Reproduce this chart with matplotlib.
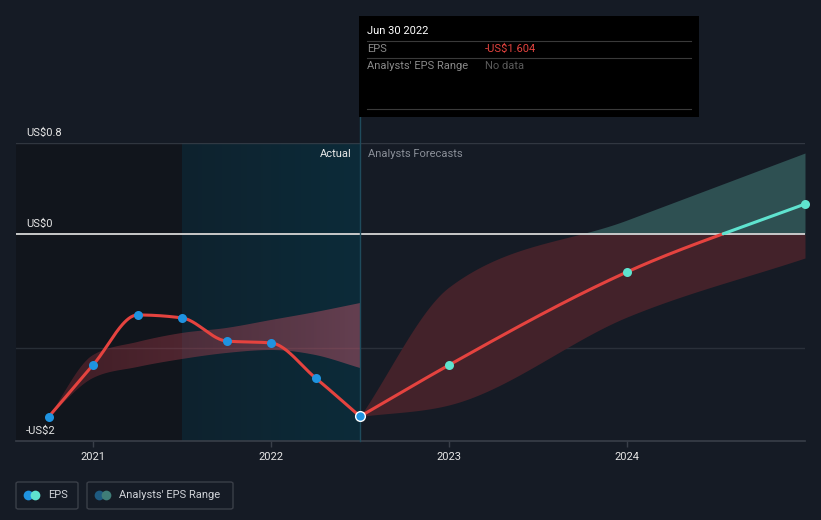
import numpy as np
import matplotlib
matplotlib.use("Agg")
import matplotlib.pyplot as plt
from matplotlib.patches import Rectangle, FancyBboxPatch
from matplotlib.lines import Line2D
import matplotlib.transforms as mtransforms

plt.rcParams['font.family'] = ['Roboto', 'DejaVu Sans']

#! data (decimal years, US$ per share)
past_x      = [2020.75, 2021.0, 2021.25, 2021.5, 2021.75, 2022.0, 2022.25, 2022.5]
past_eps    = [-1.609, -1.152, -0.712, -0.738, -0.941, -0.958, -1.266, -1.604]
past_upper  = [-1.609, -1.064, -0.949, -0.870, -0.826, -0.756, -0.686, -0.607]
past_lower  = [-1.609, -1.266, -1.169, -1.099, -1.046, -1.020, -1.064, -1.178]

fc_x        = [2022.5, 2023.0, 2024.0, 2025.0]
fc_eps      = [-1.604, -1.152, -0.334, 0.264]
fc_upper    = [-1.604, -0.466, 0.123, 0.712]
fc_lower    = [-1.604, -1.503, -0.730, -0.211]

year_ticks  = [2021, 2022, 2023, 2024]
ytick_vals  = [0.8, 0.0, -1.82]
ytick_text  = ["US$0.8", "US$0", "-US$2"]
grid_vals   = [0.8, -1.0]

# colours
BG       = "#151b25"
DARK     = "#11151c"
RED      = "#e5433f"
TEAL     = "#5fe3cf"
BLUE     = "#1f93e0"
GRID     = "#393f49"


def monotone(xs, ys, n=300):
    # monotone cubic (Fritsch-Carlson) for smooth d3-like curves
    xs = np.asarray(xs, float)
    ys = np.asarray(ys, float)
    h = np.diff(xs)
    d = np.diff(ys) / h
    m = np.zeros_like(ys)
    m[0], m[-1] = d[0], d[-1]
    for k in range(1, len(xs) - 1):
        if d[k - 1] * d[k] <= 0:
            m[k] = 0.0
        else:
            p = (d[k - 1] * h[k] + d[k] * h[k - 1]) / (h[k - 1] + h[k])
            m[k] = np.sign(d[k]) * min(abs(d[k - 1]), abs(d[k]), 0.5 * abs(p)) * 2
            m[k] = np.sign(d[k]) * min(abs(m[k]), abs(p))
    xx = np.linspace(xs[0], xs[-1], n)
    idx = np.clip(np.searchsorted(xs, xx, side="right") - 1, 0, len(xs) - 2)
    t = (xx - xs[idx]) / h[idx]
    h00 = 2 * t**3 - 3 * t**2 + 1
    h10 = t**3 - 2 * t**2 + t
    h01 = -2 * t**3 + 3 * t**2
    h11 = t**3 - t**2
    yy = h00 * ys[idx] + h10 * h[idx] * m[idx] + h01 * ys[idx + 1] + h11 * h[idx] * m[idx + 1]
    return xx, yy


fig = plt.figure(figsize=(8.21, 5.2), dpi=100)
fig.patch.set_facecolor(BG)

W, H = 821, 520
ax = fig.add_axes([16 / W, (H - 441) / H, (805 - 16) / W, (441 - 143) / H])
ax.set_facecolor(BG)
x0, x1 = 2020.567, 2025.0
y0, y1 = -1.82, 0.8
ax.set_xlim(x0, x1)
ax.set_ylim(y0, y1)

# background regions
ax.axvspan(x0, 2021.5, color=DARK, zorder=0, lw=0)
grad = np.linspace(0, 1, 256)[None, :]
c_left = np.array([14, 34, 46]) / 255
c_right = np.array([12, 43, 57]) / 255
teal_img = c_left[None, None, :] * (1 - grad[..., None]) + c_right[None, None, :] * grad[..., None]
ax.imshow(teal_img, extent=[2021.5, 2022.5, y0, y1], aspect="auto", zorder=0.5)
ax.set_xlim(x0, x1)
ax.set_ylim(y0, y1)

# grid
for g in grid_vals:
    ax.axhline(g, color=GRID, lw=1, zorder=1, alpha=0.8 if g == 0.8 else 0.6)
ax.axhline(0, color="#c9c9c9", lw=1.4, zorder=3)
ax.axhline(y0, color=GRID, lw=1.2, zorder=3, clip_on=False)

# past range band with gradient
px, pu = monotone(past_x, past_upper)
_, pl = monotone(past_x, past_lower)
band = ax.fill_between(px, pl, pu, color="none", lw=0)
g2 = np.linspace(0, 1, 256)
rgba = np.zeros((1, 256, 4))
rgba[0, :, 0] = (150 + 40 * g2) / 255
rgba[0, :, 1] = (45 + 40 * g2) / 255
rgba[0, :, 2] = (55 + 50 * g2) / 255
rgba[0, :, 3] = 0.35 + 0.15 * g2
im = ax.imshow(rgba, extent=[past_x[0], past_x[-1], y0, y1], aspect="auto", zorder=2)
im.set_clip_path(band.get_paths()[0], transform=ax.transData)
ax.set_xlim(x0, x1)
ax.set_ylim(y0, y1)

# forecast range band
fx, fu = monotone(fc_x, fc_upper)
_, fl = monotone(fc_x, fc_lower)
ax.fill_between(fx, np.minimum(fl, 0), np.minimum(fu, 0), color="#43222a", lw=0, zorder=2)
ax.fill_between(fx, np.maximum(fl, 0), np.maximum(fu, 0), where=fu > 0, color="#2e5052",
                lw=0, zorder=2, interpolate=True)

# EPS lines
ex, ey = monotone(past_x, past_eps)
ax.plot(ex, ey, color=RED, lw=2.2, zorder=4, solid_capstyle="round")
gx, gy = monotone(fc_x, fc_eps)
ax.plot(gx, np.where(gy <= 0.003, gy, np.nan), color=RED, lw=2.2, zorder=4, solid_capstyle="round")
ax.plot(gx, np.where(gy >= -0.003, gy, np.nan), color=TEAL, lw=2.2, zorder=4, solid_capstyle="round")

ax.plot(past_x[:-1], past_eps[:-1], "o", color=BLUE, ms=6.5, mec="none", zorder=5)
ax.plot(past_x[-1], past_eps[-1], "o", color=BLUE, ms=7, mec="white", mew=1, zorder=6)
ax.plot(fc_x[1:], fc_eps[1:], "o", color=TEAL, ms=6.5, mec="none", zorder=5, clip_on=False)

# divider line at last actual
ax.axvline(2022.5, ymin=0, ymax=(441 - 117) / (441 - 143), color="#1f4b5c", lw=1,
           zorder=3, clip_on=False)

ax.text(2022.5 - 0.045, 0.8 - 0.1, "Actual", color="#e8e8e8", fontsize=8, ha="right",
        va="center", zorder=6)
ax.text(2022.5 + 0.045, 0.8 - 0.1, "Analysts Forecasts", color="#8a8f98", fontsize=8,
        ha="left", va="center", zorder=6)

# axes styling
for s in ax.spines.values():
    s.set_visible(False)
ax.set_yticks([])
ax.set_xticks(year_ticks)
ax.set_xticklabels([str(y) for y in year_ticks])
ax.tick_params(axis="x", colors=GRID, length=4, width=1, pad=4, labelsize=8,
               labelcolor="#e6e6e6")

trans = mtransforms.blended_transform_factory(ax.transAxes, ax.transData)
for v, t in zip(ytick_vals, ytick_text):
    ax.annotate(t, xy=(10 / 789, v), xycoords=trans, xytext=(0, 3.5),
                textcoords="offset points", color="#e6e6e6", fontsize=8,
                ha="left", va="bottom", zorder=7, annotation_clip=False)

# tooltip
fig.patches.append(Rectangle((359 / W, 1 - 117 / H), 340 / W, 101 / H, transform=fig.transFigure,
                             facecolor="black", edgecolor="none", zorder=10))
for yy in [41, 58, 109]:
    fig.add_artist(Line2D([367 / W, 691 / W], [1 - yy / H, 1 - yy / H], color="#3a3a3a",
                          lw=0.8, zorder=11))
fig.text(367 / W, 1 - 31 / H, "Jun 30 2022", color="white", fontsize=8, va="center", zorder=12)
fig.text(367 / W, 1 - 49 / H, "EPS", color="#8a8a8a", fontsize=8, va="center", zorder=12)
fig.text(485 / W, 1 - 49 / H, "-US$1.604", color="#e5433f", fontsize=8, va="center", zorder=12)
fig.text(367 / W, 1 - 66 / H, "Analysts' EPS Range", color="#8a8a8a", fontsize=8,
         va="center", zorder=12)
fig.text(485 / W, 1 - 66 / H, "No data", color="#5a5a5a", fontsize=8, va="center", zorder=12)

# legend
for (bx, bw, label, c1, c2) in [(16, 62, "EPS", BLUE, TEAL),
                                (87, 146, "Analysts' EPS Range", "#1e5a80", "#3f7d78")]:
    fig.patches.append(FancyBboxPatch((bx / W, 1 - 509 / H), bw / W, 27 / H,
                                      boxstyle="round,pad=0,rounding_size=0.003",
                                      transform=fig.transFigure, facecolor="none",
                                      edgecolor="#3a3f48", lw=1))
    cy = 1 - 495 / H
    fig.add_artist(Line2D([(bx + 12) / W], [cy], marker="o", ms=7, color=c1, mec="none"))
    fig.add_artist(Line2D([(bx + 19) / W], [cy], marker="o", ms=7, color=c2, mec="none"))
    fig.text((bx + 32) / W, cy, label, color="#d0d3d8", fontsize=8, va="center")

fig.savefig("out.png", dpi=100, facecolor=BG)
